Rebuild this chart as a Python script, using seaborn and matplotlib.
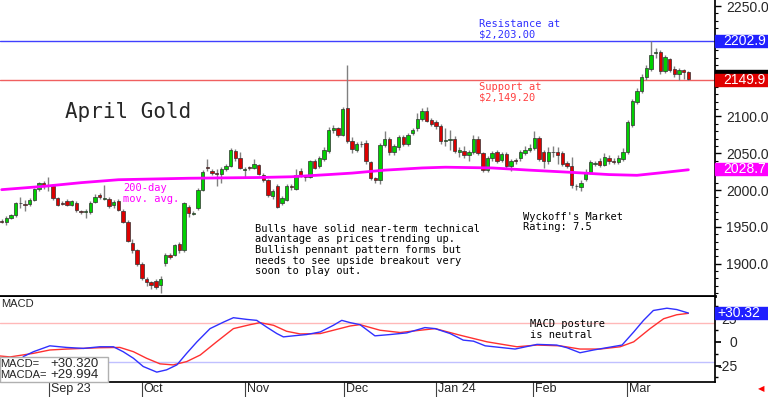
import matplotlib
matplotlib.use("Agg")
import matplotlib.pyplot as plt
import matplotlib.patches as mpatches
import matplotlib.transforms as mtransforms
import seaborn as sns
import pandas as pd
import numpy as np

# daily candles (Aug 23 .. Mar 24)
opens = [1958, 1957, 1962, 1966, 1982, 1981, 1981, 1987, 2002, 2010,
         2006, 2005, 1989, 1982, 1985, 1980, 1983, 1971, 1970, 1970,
         1984, 1993, 1988, 1988, 1979, 1985, 1972, 1957, 1928, 1918,
         1900, 1879, 1875, 1877, 1871, 1901, 1912, 1912, 1927, 1918,
         1977, 1968, 1975, 2000, 2031, 2026, 2023, 2022, 2028, 2033,
         2053, 2043, 2027, 2031, 2030, 2034, 2021, 2013, 1992, 2005,
         1982, 1987, 2005, 2002, 2026, 2019, 2018, 2039, 2032, 2042,
         2053, 2081, 2084, 2075, 2112, 2067, 2055, 2062, 2064, 2038,
         2016, 2013, 2061, 2069, 2051, 2059, 2072, 2062, 2078, 2084,
         2096, 2108, 2095, 2092, 2087, 2067, 2068, 2070, 2052, 2053,
         2047, 2051, 2070, 2050, 2027, 2044, 2051, 2041, 2049, 2033,
         2041, 2043, 2050, 2055, 2057, 2071, 2052, 2039, 2052, 2051,
         2050, 2037, 2033, 2006, 2004, 2015, 2025, 2036, 2039, 2034,
         2043, 2040, 2038, 2042, 2051, 2089, 2120, 2135, 2154, 2165,
         2186, 2188, 2162, 2178, 2165, 2157, 2163, 2160]
closes = [1957, 1962, 1966, 1982, 1983, 1979, 1986, 2001, 2009, 2005,
          2005, 1989, 1980, 1981, 1980, 1985, 1973, 1970, 1971, 1982,
          1991, 1990, 1989, 1978, 1984, 1973, 1957, 1931, 1918, 1900,
          1881, 1875, 1871, 1868, 1879, 1912, 1909, 1925, 1918, 1982,
          1969, 1969, 2000, 2024, 2030, 2023, 2022, 2028, 2033, 2054,
          2043, 2030, 2028, 2030, 2036, 2022, 2013, 1993, 1998, 1977,
          1989, 2005, 2004, 2021, 2020, 2018, 2039, 2030, 2043, 2054,
          2082, 2084, 2075, 2110, 2066, 2056, 2062, 2063, 2039, 2016,
          2013, 2061, 2069, 2051, 2060, 2072, 2062, 2075, 2082, 2096,
          2108, 2094, 2090, 2087, 2067, 2068, 2070, 2053, 2054, 2047,
          2051, 2070, 2050, 2027, 2043, 2050, 2040, 2049, 2033, 2039,
          2040, 2051, 2055, 2057, 2071, 2042, 2039, 2052, 2051, 2048,
          2036, 2033, 2007, 2005, 2010, 2025, 2038, 2037, 2034, 2045,
          2039, 2038, 2044, 2052, 2092, 2121, 2135, 2154, 2166, 2184,
          2188, 2162, 2181, 2163, 2157, 2163, 2161, 2151]
highs = [1960, 1965, 1968, 1984, 1990, 1986, 1989, 2003, 2011, 2012,
         2018, 2008, 1991, 1985, 1988, 1987, 1985, 1973, 1974, 1985,
         1994, 1996, 2007, 1991, 1987, 1988, 1974, 1959, 1933, 1920,
         1902, 1882, 1877, 1879, 1883, 1914, 1915, 1927, 1929, 1984,
         1980, 1972, 2003, 2027, 2042, 2029, 2028, 2031, 2036, 2057,
         2056, 2052, 2031, 2033, 2042, 2036, 2023, 2015, 2001, 2008,
         1992, 2008, 2008, 2028, 2030, 2021, 2041, 2042, 2046, 2058,
         2085, 2088, 2086, 2113, 2170, 2072, 2065, 2066, 2068, 2040,
         2018, 2064, 2080, 2072, 2063, 2075, 2075, 2078, 2084, 2105,
         2112, 2113, 2098, 2095, 2090, 2084, 2082, 2073, 2058, 2060,
         2055, 2075, 2073, 2052, 2046, 2053, 2054, 2052, 2051, 2042,
         2044, 2054, 2060, 2062, 2080, 2073, 2055, 2058, 2060, 2058,
         2053, 2040, 2045, 2008, 2013, 2028, 2041, 2040, 2043, 2050,
         2047, 2044, 2047, 2057, 2095, 2124, 2138, 2157, 2170, 2202,
         2193, 2190, 2184, 2180, 2168, 2166, 2165, 2162]
lows = [1955, 1953, 1960, 1964, 1975, 1972, 1978, 1985, 1998, 2002,
        1998, 1987, 1978, 1979, 1978, 1978, 1970, 1968, 1962, 1968,
        1982, 1988, 1986, 1975, 1976, 1971, 1955, 1929, 1915, 1897,
        1878, 1870, 1866, 1865, 1860, 1897, 1906, 1910, 1915, 1916,
        1963, 1966, 1973, 1998, 2026, 2020, 2005, 2010, 2026, 2031,
        2040, 2028, 2016, 2027, 2028, 2020, 2011, 1990, 1988, 1975,
        1979, 1985, 2000, 2000, 2018, 2012, 2016, 2028, 2030, 2040,
        2050, 2078, 2072, 2073, 2064, 2050, 2052, 2059, 2036, 2013,
        2010, 2008, 2058, 2048, 2048, 2055, 2060, 2060, 2075, 2080,
        2094, 2092, 2087, 2083, 2063, 2060, 2055, 2050, 2045, 2044,
        2040, 2049, 2047, 2024, 2025, 2040, 2037, 2038, 2030, 2026,
        2036, 2040, 2047, 2052, 2055, 2040, 2030, 2036, 2045, 2035,
        2033, 2030, 2003, 2000, 1999, 2012, 2022, 2033, 2031, 2032,
        2036, 2035, 2036, 2040, 2049, 2086, 2117, 2132, 2150, 2162,
        2180, 2158, 2159, 2160, 2154, 2149, 2151, 2150]

# 200-day moving average (bar index, value)
ma_idx = [0, 9, 17, 25, 40, 55, 62, 70, 75, 82, 90, 95, 105, 113, 122, 130, 136, 142, 147]
ma_val = [2000.5, 2005, 2010, 2014, 2016, 2017, 2018, 2021, 2023, 2027, 2030, 2031,
          2030, 2027, 2024, 2021, 2020, 2024, 2027.5]

# MACD panel (bar index, value)
macd_idx = [4.6, 6.8, 10.3, 13.9, 17.5, 21, 23.9, 26, 28.2, 30.3, 33.2, 35.3, 37.5, 39.6,
            41.8, 44.6, 47.5, 49.6, 52.5, 54.6, 56.7, 58.9, 60.3, 62.4, 65.3, 68.2, 71,
            72.8, 74.6, 76.7, 79.9, 83.2, 86.7, 90.6, 92.8, 96, 98.8, 101, 103.5, 106.7,
            109.9, 114.6, 118.8, 121, 123.8, 126.7, 129.5, 132.8, 135.3, 137.4, 139.5,
            142.4, 144.5, 147]
macd_val = [-15.6, -10.4, -4.2, -5.9, -6.9, -5.2, -5.2, -10.4, -17.3, -26, -31.9, -29.5,
            -24.3, -12.1, 0, 13.9, 20.8, 25.4, 23.6, 22.6, 15.6, 8.7, 5.2, 6.3, 7.7, 10.4,
            17.4, 22.6, 20.2, 18.1, 6.3, 7.7, 9.4, 15, 13.9, 8.7, 1.8, 0.7, -4.2, -5.9,
            -7.6, -2.7, -3.4, -6.2, -11.5, -8.6, -6.2, -3.4, 10.4, 22.6, 33, 35.4, 34,
            30.32]
sig_idx = [-0.4, 1.8, 6.8, 10.3, 13.9, 17.5, 21, 25.3, 28.2, 31.0, 33.9, 36.7, 39.6, 42.5,
           46.0, 49.6, 53.2, 55.3, 58.2, 61, 63.9, 68.2, 71, 74.6, 76.7, 81, 85.3, 89.6,
           92.8, 98.1, 103.9, 110.3, 114.6, 119.5, 123.8, 128.1, 132.4, 135.3, 138.8,
           141.7, 144.5, 147]
sig_val = [-14.9, -15.9, -12.1, -8.6, -7.6, -6.9, -6.2, -5.9, -10.4, -17.3, -23.2, -24.3,
           -20.8, -13.9, 0, 13.9, 18.1, 20.2, 17.4, 11.1, 8.3, 8.7, 12.2, 16.7, 18.1, 12.2,
           9.8, 12.2, 13.9, 7, 0, -5.2, -3.4, -4.2, -7.6, -7.6, -5.2, 0, 13.9, 24.3, 28.5,
           29.994]

month_pos = [10.1, 30.0, 52.1, 73.2, 93.0, 113.8, 133.8]
month_labels = ["Sep 23", "Oct", "Nov", "Dec", "Jan 24", "Feb", "Mar"]
price_ticks = [1900, 1950, 2000, 2050, 2100, 2150, 2200, 2250]
macd_ticks = [-25, 0, 25]

resistance = 2203.00
support = 2149.20
last_price = 2149.9
prev_badge = 2155.6
ma_last = 2028.7
macd_last = 30.320
macda_last = 29.994
macd_hi, macd_lo = 20, -21

sns.set_theme(style="white")
plt.rcParams['font.family'] = ['Liberation Sans', 'DejaVu Sans']
MONO = 'DejaVu Sans Mono'

df = pd.DataFrame({"o": opens, "h": highs, "l": lows, "c": closes})
df["idx"] = np.arange(len(df))
df["bottom"] = df[["o", "c"]].min(axis=1)
df["body"] = np.maximum((df.c - df.o).abs(), 0.8)
df["col"] = np.where(df.c >= df.o, "#00d000", "#dd0000")

W, H = 768, 397
fig = plt.figure(figsize=(W / 100, H / 100), dpi=100)
fig.patch.set_facecolor("white")


def fx(x):
    return x / W


def fy(y):
    return 1 - y / H


ax = fig.add_axes([0, fy(296), fx(715), 296 / H])
ax2 = fig.add_axes([0, fy(382), fx(715), (382 - 297) / H])
for a in (ax, ax2):
    a.set_facecolor("white")
    a.set_xlim(-0.364, 152.7)
    a.spines["left"].set_visible(False)
    a.spines["top"].set_visible(False)
    a.spines["right"].set_color("black")
    a.spines["bottom"].set_color("black")
    a.yaxis.tick_right()
    a.grid(False)

# ---- price panel
ax.set_ylim(1856, 2258.2)
ax.axhline(resistance, color="#4040ff", lw=1, zorder=1)
ax.axhline(support, color="#f06060", lw=1, zorder=1)
ax.vlines(df.idx, df.l, df.h, color="#808080", lw=1, zorder=2)
ax.bar(df.idx, df.body, bottom=df.bottom, width=0.72, color=df.col,
       edgecolor="#303030", linewidth=0.5, zorder=3)
sns.lineplot(x=ma_idx, y=ma_val, ax=ax, color="#ff00ff", lw=2, zorder=4)

ax.set_yticks(price_ticks)
# 2150 and 2200 sit under the price badges
ax.set_yticklabels(["" if v in (2150, 2200) else f"{v:.1f}" for v in price_ticks])
ax.set_yticks(np.arange(1860, 2260, 10), minor=True)
ax.tick_params(axis="y", which="major", length=4, width=1, color="black",
               labelsize=10, pad=4, right=True, left=False)
ax.tick_params(axis="y", which="minor", length=2, width=0.8, color="black", right=True)
ax.set_xticks([])
ax.spines["bottom"].set_linewidth(2)
ax.set_xlabel("")
ax.set_ylabel("")


def badge(a, y, h, text, color, z=6, off=8):
    tr = mtransforms.blended_transform_factory(a.transAxes, a.transData)
    a.add_patch(mpatches.Rectangle((1.0, y - h / 2), 0.09, h, transform=tr,
                                   color=color, clip_on=False, zorder=z))
    if text:
        a.text(1.0 + off / 715, y, text, transform=tr, color="white", fontsize=10,
               va="center", ha="left", clip_on=False, zorder=z + 1)


badge(ax, prev_badge, 16, None, "black", z=6)
badge(ax, last_price, 16, f"{last_price:.1f}", "#e00000", z=8)
badge(ax, resistance, 16, f"{resistance - 0.1:.1f}", "#2020ff", z=8)
badge(ax, ma_last, 16, f"{ma_last:.1f}", "#ff00ff", z=8)

# ---- MACD panel
ax2.set_ylim(-42.3, 47.2)
ax2.axhline(macd_hi, color="#ffb8b8", lw=1, zorder=1)
ax2.axhline(macd_lo, color="#c0c0ff", lw=1, zorder=1)
sns.lineplot(x=sig_idx, y=sig_val, ax=ax2, color="#ff3030", lw=1, zorder=3)
sns.lineplot(x=macd_idx, y=macd_val, ax=ax2, color="#3030ff", lw=1, zorder=3)
ax2.set_yticks(macd_ticks)
ax2.set_yticklabels([str(v) for v in macd_ticks])
for lab in ax2.get_yticklabels():
    lab.set_horizontalalignment("right")
ax2.set_yticks(np.arange(-37.5, 47, 12.5), minor=True)
ax2.tick_params(axis="y", which="major", length=4, color="black", labelsize=10,
                pad=12, right=True, left=False)
ax2.tick_params(axis="y", which="minor", length=2, color="black", right=True)
ax2.set_xticks(month_pos)
ax2.set_xticklabels([])
ax2.tick_params(axis="x", length=11, width=0.8, color="#404040", direction="out",
                bottom=True)
ax2.set_xlabel("")
ax2.set_ylabel("")
tr2 = mtransforms.blended_transform_factory(ax2.transData, ax2.transAxes)
for p, lab in zip(month_pos, month_labels):
    ax2.text(p + 0.4, -0.08, lab, transform=tr2, fontsize=9, va="center", ha="left",
             clip_on=False)
badge(ax2, macd_last, 12.6, f"+{macd_last:.2f}", "#2020ff", z=8, off=2)

# value box bottom-left
ax2.add_patch(mpatches.Rectangle((0, 0), 108 / 715, 25 / 85,
                                 transform=ax2.transAxes, facecolor="white",
                                 edgecolor="#b0b0b0", lw=1, zorder=9, clip_on=False))
for row, (name, val) in enumerate([("MACD=", macd_last), ("MACDA=", macda_last)]):
    yy = (382 - (364 + row * 11.5)) / 85
    ax2.text(0.0, yy, name, transform=ax2.transAxes, fontsize=8,
             va="center", ha="left", zorder=10)
    ax2.text(50 / 715, yy, f"+{val:.3f}", transform=ax2.transAxes,
             fontsize=9.5, va="center", ha="left", zorder=10)
fig.text(fx(1), fy(304), "MACD", fontsize=8, va="center", ha="left")

# ---- annotations
fig.text(fx(65), fy(112), "April Gold", family=MONO, fontsize=15, va="center", ha="left")


def note(x, y, lines, color="black", step=10.5):
    for k, s in enumerate(lines):
        fig.text(fx(x), fy(y + k * step), s, family=MONO, fontsize=7.5, color=color,
                 va="center", ha="left")


note(479, 24, ["Resistance at", "$2,203.00"], color="#3030ff")
note(479, 87, ["Support at", "$2,149.20"], color="#ff4040")
note(123, 188, ["200-day", "mov. avg."], color="#ff00ff")
note(255, 229, ["Bulls have solid near-term technical",
                "advantage as prices trending up.",
                "Bullish pennant pattern forms but",
                "needs to see upside breakout very",
                "soon to play out."])
note(523, 217, ["Wyckoff's Market", "Rating: 7.5"])
note(530, 324, ["MACD posture", "is neutral"])
fig.text(fx(761), fy(390), "\u25c0", color="red", fontsize=6, va="center", ha="center")

fig.savefig("out.png", dpi=100)
